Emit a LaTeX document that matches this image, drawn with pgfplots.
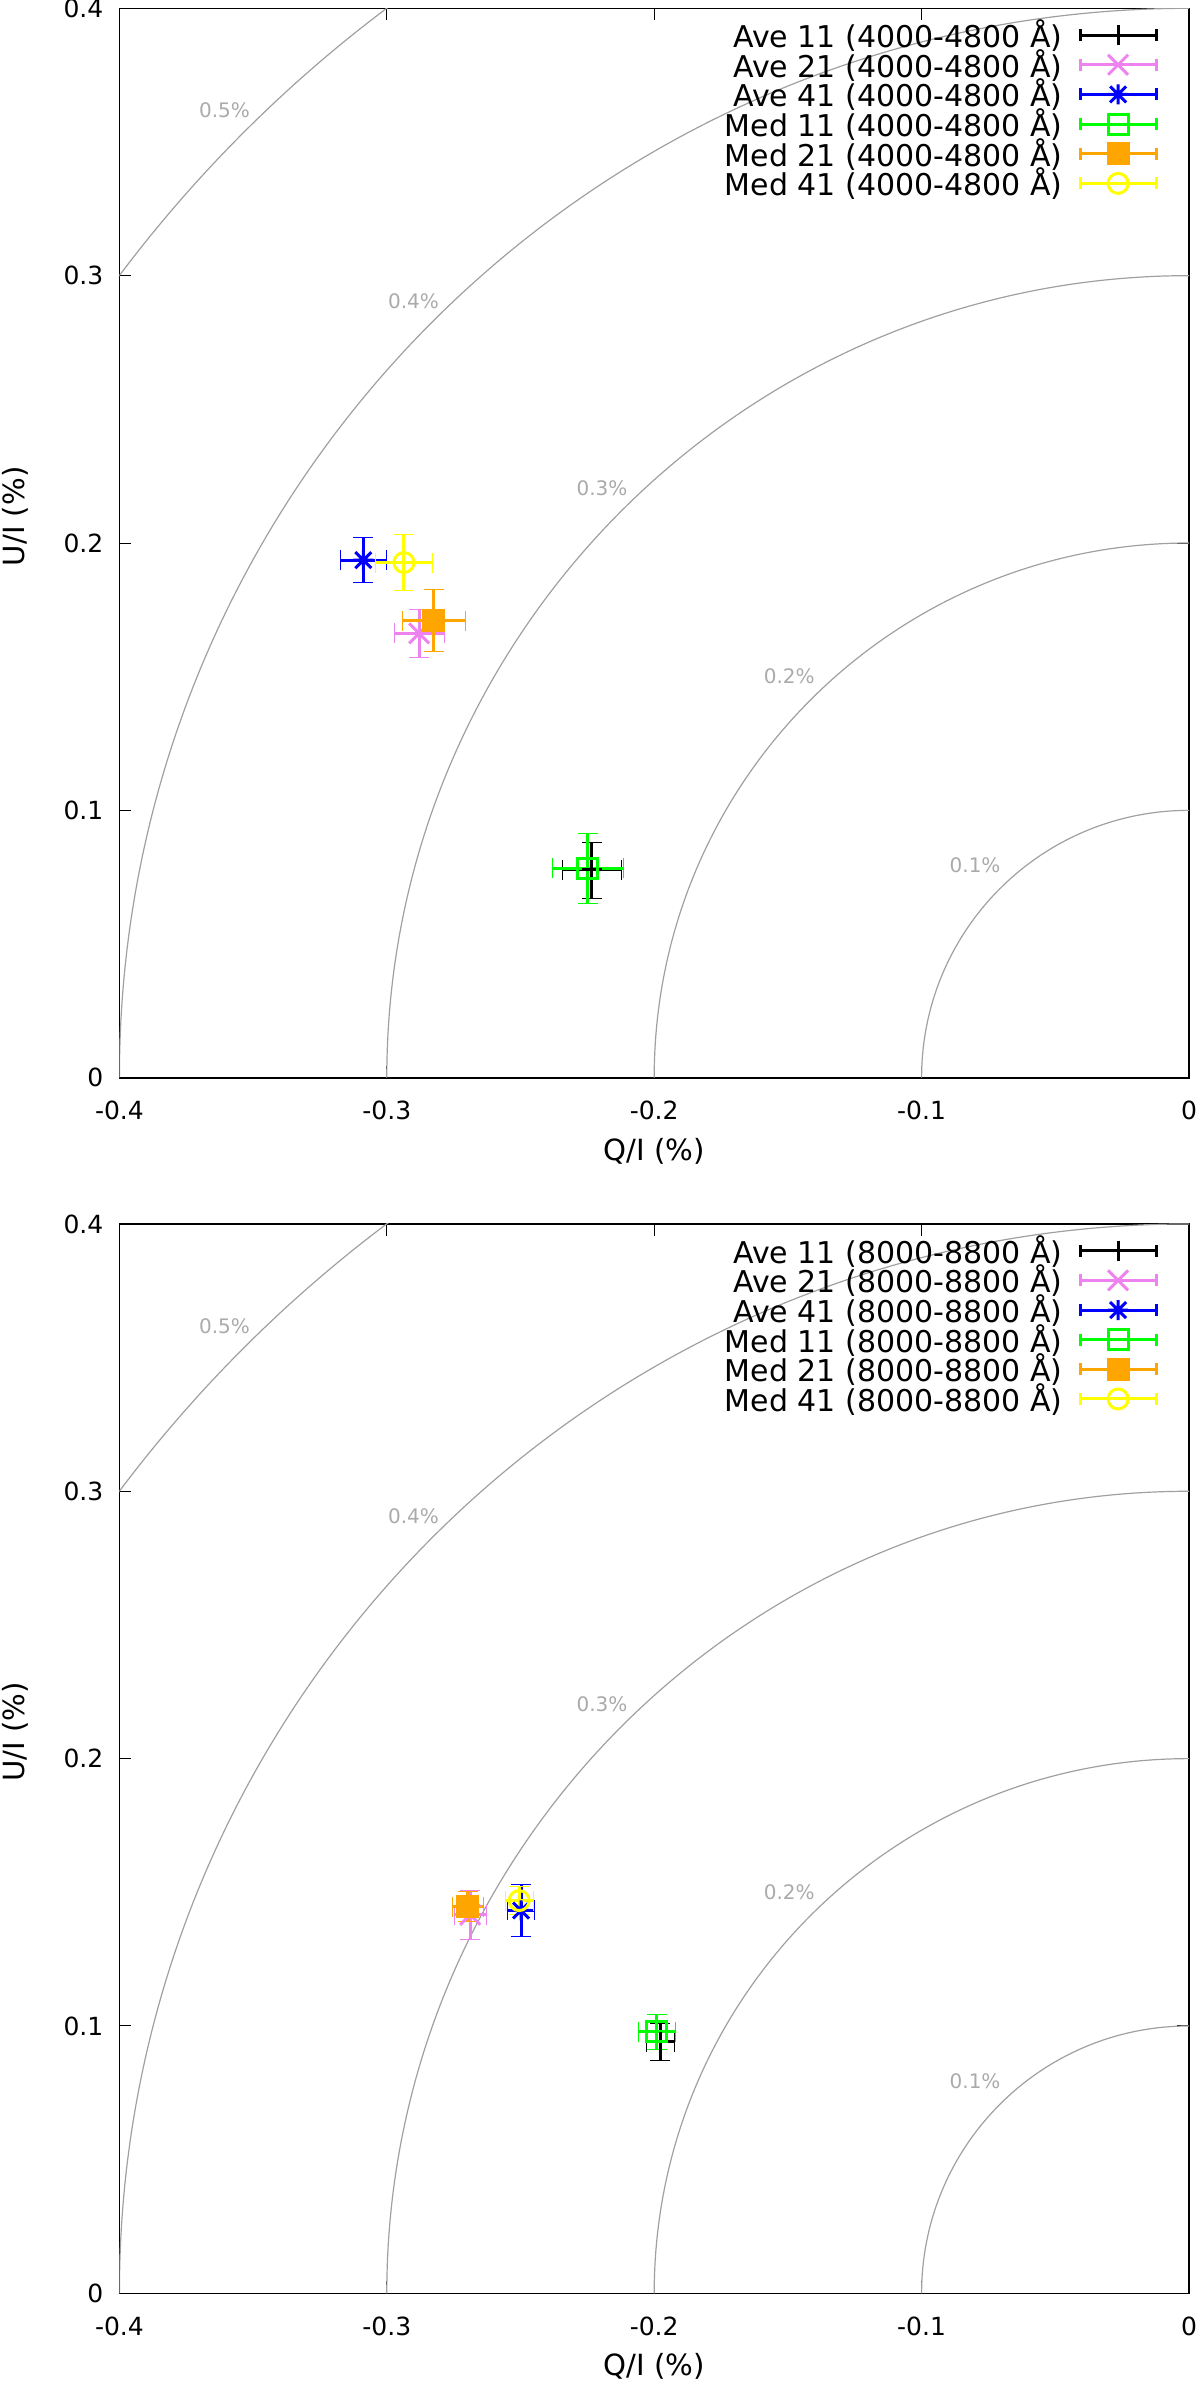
\documentclass[border=0pt]{standalone}
\usepackage{pgfplots}
\pgfplotsset{compat=1.18}
\usepackage{fontspec}
\setmainfont{DejaVu Sans}
\definecolor{cviolet}{RGB}{238,130,238}
\definecolor{corange}{RGB}{255,165,0}
\definecolor{cgreen}{RGB}{0,255,0}
\definecolor{cyellow}{RGB}{255,255,0}
\definecolor{cblue}{RGB}{0,0,255}
\definecolor{arcgray}{RGB}{160,160,160}
\definecolor{lblgray}{RGB}{170,170,170}

\pgfdeclareplotmark{gx}{%
 \pgfpathmoveto{\pgfqpoint{\pgfplotmarksize}{\pgfplotmarksize}}\pgfpathlineto{\pgfqpoint{-\pgfplotmarksize}{-\pgfplotmarksize}}%
 \pgfpathmoveto{\pgfqpoint{-\pgfplotmarksize}{\pgfplotmarksize}}\pgfpathlineto{\pgfqpoint{\pgfplotmarksize}{-\pgfplotmarksize}}%
 \pgfusepathqstroke}
\pgfdeclareplotmark{gstar}{%
 \pgfpathmoveto{\pgfqpoint{0pt}{\pgfplotmarksize}}\pgfpathlineto{\pgfqpoint{0pt}{-\pgfplotmarksize}}%
 \pgfpathmoveto{\pgfqpoint{\pgfplotmarksize}{0pt}}\pgfpathlineto{\pgfqpoint{-\pgfplotmarksize}{0pt}}%
 \pgfpathmoveto{\pgfqpoint{.8\pgfplotmarksize}{.8\pgfplotmarksize}}\pgfpathlineto{\pgfqpoint{-.8\pgfplotmarksize}{-.8\pgfplotmarksize}}%
 \pgfpathmoveto{\pgfqpoint{-.8\pgfplotmarksize}{.8\pgfplotmarksize}}\pgfpathlineto{\pgfqpoint{.8\pgfplotmarksize}{-.8\pgfplotmarksize}}%
 \pgfusepathqstroke}

\pgfplotsset{
  eb/.style={only marks, line width=1.5pt, mark size=5pt, mark options={solid},
    error bars/.cd, x dir=both, x explicit, y dir=both, y explicit,
    error bar style={line width=1.5pt}},
  panel/.style={
    scale only axis, width=534.8pt, height=534.7pt,
    xmin=-0.4, xmax=0, ymin=0, ymax=0.4,
    xtick={-0.4,-0.3,-0.2,-0.1,0}, xticklabels={-0.4,-0.3,-0.2,-0.1,0},
    ytick={0,0.1,0.2,0.3,0.4}, yticklabels={0,0.1,0.2,0.3,0.4},
    /pgf/number format/assume math mode=true,
    tick align=inside, major tick length=6pt,
    tick style={black, line width=0.5pt},
    axis line style={line width=0.8pt},
    ticklabel style={font=\fontsize{12.5}{15}\selectfont},
    xticklabel style={yshift=-8.3pt},
    yticklabel style={xshift=-4.5pt},
    label style={font=\fontsize{14.6}{17}\selectfont},
    xlabel={Q/I (\%)}, ylabel={U/I (\%)},
    xlabel style={at={(axis description cs:0.5,-0.0686)}, anchor=center},
    ylabel style={at={(axis description cs:-0.0976,0.525)}, anchor=center},
    legend cell align=right, legend plot pos=right,
    legend style={at={(axis description cs:1,1)}, anchor=north east,
      xshift=-15.5pt, yshift=-5.5pt, draw=none, fill=none, inner sep=0pt,
      font=\fontsize{15}{17}\selectfont, row sep=-0.6pt, column sep=8pt,
      nodes={inner sep=0pt}},
    legend image code/.code={
      \draw[##1] (0pt,0pt) -- (38pt,0pt);
      \draw[##1] (0pt,-3pt) -- (0pt,3pt);
      \draw[##1] (38pt,-3pt) -- (38pt,3pt);
      \draw[##1] plot coordinates {(19pt,0pt)};
    },
  }
}

\newcommand{\arcs}{%
  \draw[arcgray, line width=0.6pt] (axis cs:-0.1,0) arc[start angle=180, end angle=90, radius=0.1];
  \draw[arcgray, line width=0.6pt] (axis cs:-0.2,0) arc[start angle=180, end angle=90, radius=0.2];
  \draw[arcgray, line width=0.6pt] (axis cs:-0.3,0) arc[start angle=180, end angle=90, radius=0.3];
  \draw[arcgray, line width=0.6pt] (axis cs:-0.4,0) arc[start angle=180, end angle=90, radius=0.4];
  \draw[arcgray, line width=0.6pt] (axis cs:-0.5,0) arc[start angle=180, end angle=90, radius=0.5];
  \node[lblgray, font=\fontsize{10}{12}\selectfont] at (axis cs:-0.0800,0.0795) {0.1\%};
  \node[lblgray, font=\fontsize{10}{12}\selectfont] at (axis cs:-0.1495,0.1500) {0.2\%};
  \node[lblgray, font=\fontsize{10}{12}\selectfont] at (axis cs:-0.2195,0.2205) {0.3\%};
  \node[lblgray, font=\fontsize{10}{12}\selectfont] at (axis cs:-0.2900,0.2905) {0.4\%};
  \node[lblgray, font=\fontsize{10}{12}\selectfont] at (axis cs:-0.3607,0.3618) {0.5\%};
}

\begin{document}
\begin{tikzpicture}
\useasboundingbox (0,0) rectangle (600pt,-1191pt);
\begin{axis}[panel, at={(59.7pt,-538.85pt)}, anchor=south west]
\arcs
\addplot[black, mark=+, eb] coordinates {(-0.2234,0.0777) +- (0.0110,0.0105)};
\addlegendentry{Ave 11 (4000-4800 Å)}
\addplot[cviolet, mark=gx, eb] coordinates {(-0.2879,0.1662) +- (0.0094,0.0090)};
\addlegendentry{Ave 21 (4000-4800 Å)}
\addplot[cblue, mark=gstar, eb] coordinates {(-0.3088,0.1936) +- (0.0085,0.0085)};
\addlegendentry{Ave 41 (4000-4800 Å)}
\addplot[cgreen, mark=square, eb] coordinates {(-0.2248,0.0784) +- (0.0131,0.0131)};
\addlegendentry{Med 11 (4000-4800 Å)}
\addplot[corange, mark=square*, mark options={fill=corange}, eb] coordinates {(-0.2824,0.1709) +- (0.0118,0.0116)};
\addlegendentry{Med 21 (4000-4800 Å)}
\addplot[cyellow, mark=o, eb] coordinates {(-0.2936,0.1927) +- (0.0107,0.0106)};
\addlegendentry{Med 41 (4000-4800 Å)}
\end{axis}
\begin{axis}[panel, at={(59.7pt,-1146.65pt)}, anchor=south west]
\arcs
\addplot[black, mark=+, eb] coordinates {(-0.1978,0.0941) +- (0.0052,0.0068)};
\addlegendentry{Ave 11 (8000-8800 Å)}
\addplot[cviolet, mark=gx, eb] coordinates {(-0.2688,0.1416) +- (0.0060,0.0092)};
\addlegendentry{Ave 21 (8000-8800 Å)}
\addplot[cblue, mark=gstar, eb] coordinates {(-0.2498,0.1432) +- (0.0050,0.0096)};
\addlegendentry{Ave 41 (8000-8800 Å)}
\addplot[cgreen, mark=square, eb] coordinates {(-0.1990,0.0979) +- (0.0069,0.0065)};
\addlegendentry{Med 11 (8000-8800 Å)}
\addplot[corange, mark=square*, mark options={fill=corange}, eb] coordinates {(-0.2697,0.1446) +- (0.0059,0.0056)};
\addlegendentry{Med 21 (8000-8800 Å)}
\addplot[cyellow, mark=o, eb] coordinates {(-0.2505,0.1469) +- (0.0053,0.0053)};
\addlegendentry{Med 41 (8000-8800 Å)}
\end{axis}
\end{tikzpicture}
\end{document}
